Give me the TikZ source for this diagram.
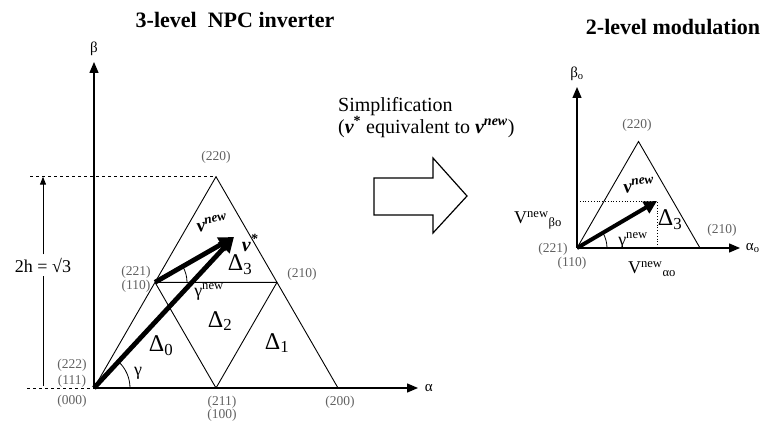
\documentclass[tikz,border=0pt]{standalone}
\usepackage{fontspec}
\setmainfont{Liberation Serif}
\usetikzlibrary{arrows.meta}

\begin{document}
\begin{tikzpicture}[x=1pt, y=1pt,
  state/.style={font=\fontsize{13.5}{14}\selectfont, text=black!62},
  sector/.style={font=\fontsize{24}{24}\selectfont, inner sep=0pt},
  axis/.style={line width=1.3pt, -{Triangle[length=11pt,width=9pt]}},
  vec/.style={line width=4.8pt, -{Triangle[length=15pt,width=15pt]}},
  title/.style={font=\fontsize{22}{22}\selectfont\bfseries}]
  \useasboundingbox (0,0) rectangle (765,426);
  % 3-level hexagon sector
  \coordinate (O) at (94,38);
  \coordinate (a211) at (216,38);
  \coordinate (a200) at (338,38);
  \coordinate (a221) at (155,143.7);
  \coordinate (a210) at (277,143.7);
  \coordinate (a220) at (216,249.3);
  \coordinate (T) at (234,189);
  \coordinate (betaend) at (94,364);
  \coordinate (alphaend) at (418,38);
  \draw[axis] (O) -- (betaend) node[above=2pt, font=\fontsize{15}{15}\selectfont] (beta) {β};
  \draw[axis] (O) -- (alphaend) node[right=3pt, font=\fontsize{15}{15}\selectfont] (alpha) {α};
  \draw[line width=0.9pt] (O) -- (a220) -- (a200);
  \draw[line width=0.9pt] (a221) -- (a210) (a221) -- (a211) -- (a210);
  \draw[line width=1pt, dashed] (27,38) -- (O);
  \draw[line width=1pt, dashed] (30,249.3) -- (a220);
  % height
  \node[font=\fontsize{18}{18}\selectfont] (hgt) at (43,161) {2h = √3};
  \draw[line width=1pt] (43,40) -- (hgt.south);
  \draw[line width=1pt, -{Triangle[length=8pt,width=6pt]}] (hgt.north) -- (43,249.3);
  % vectors
  \draw[vec] (O) -- (T);
  \draw[vec] (a221) -- (T);
  \draw[line width=0.8pt] ([shift={(36,0)}]O) arc[start angle=0, end angle=47.2, radius=36];
  \draw[line width=0.8pt] ([shift={(32,0)}]a221) arc[start angle=0, end angle=29.8, radius=32];
  \node[font=\fontsize{18}{18}\selectfont] (gam) at (138,53) {γ};
  \node[font=\fontsize{18}{18}\selectfont] (gamnew) at (209,134) {γ\textsuperscript{new}};
  \node[font=\fontsize{19}{19}\selectfont\bfseries\itshape, rotate=12, inner sep=1pt] (vnew) at (212,203) {v\textsuperscript{new}};
  \node[font=\fontsize{20}{20}\selectfont\bfseries\itshape, inner sep=1pt] (vstar) at (250,183) {v\textsuperscript{*}};
  % sectors
  \node[sector] (d0) at (161,80) {Δ\textsubscript{0}};
  \node[sector] (d2) at (220,105) {Δ\textsubscript{2}};
  \node[sector] (d1) at (277,83) {Δ\textsubscript{1}};
  \node[sector] (d3) at (240,161) {Δ\textsubscript{3}};
  % switching states
  \node[state] (s220) at (216,269) {(220)};
  \node[state] (s221) at (136,154) {(221)};
  \node[state] (s110) at (136,140) {(110)};
  \node[state] (s210) at (302,152) {(210)};
  \node[state] (s222) at (72,61) {(222)};
  \node[state] (s111) at (72,45) {(111)};
  \node[state] (s000) at (72,25) {(000)};
  \node[state] (s211) at (222,24) {(211)};
  \node[state] (s100) at (222,11) {(100)};
  \node[state] (s200) at (340,24) {(200)};
  \node[title] (t3l) at (235,406) {3-level~~NPC inverter};

  % simplification arrow
  \draw[line width=1.2pt] (374,211) -- (433,211) -- (433,193) -- (467,230)
    -- (433,268) -- (433,248) -- (374,248) -- cycle;
  \node[anchor=west, font=\fontsize{20}{20}\selectfont, inner sep=0pt] (simp) at (338,319) {Simplification};
  \node[anchor=west, font=\fontsize{20}{20}\selectfont, inner sep=0pt] (equiv) at (338,299)
    {({\bfseries\itshape v}\textsuperscript{\bfseries *} equivalent to {\bfseries\itshape v\textsuperscript{new}})};

  % 2-level sector
  \coordinate (O2) at (577,178);
  \coordinate (b210) at (700,178);
  \coordinate (b220) at (638.5,284.5);
  \coordinate (P) at (657,225);
  \coordinate (betaoend) at (577,339);
  \coordinate (alphaoend) at (740,178);
  \draw[axis] (O2) -- (betaoend) node[above=2pt, font=\fontsize{15}{15}\selectfont] (betao) {β\textsubscript{o}};
  \draw[axis] (O2) -- (alphaoend) node[right=2pt, font=\fontsize{15}{15}\selectfont] (alphao) {α\textsubscript{o}};
  \draw[line width=0.9pt] (O2) -- (b220) -- (b210);
  \draw[line width=0.8pt, dotted] (O2 |- P) -- (P) -- (P |- O2);
  \draw[line width=4pt, -{Triangle[length=13pt,width=13pt]}] (O2) -- (P);
  \draw[line width=0.8pt] ([shift={(30,0)}]O2) arc[start angle=0, end angle=30.4, radius=30];
  \node[font=\fontsize{19}{19}\selectfont\bfseries\itshape, rotate=8, inner sep=1pt] (vnewo) at (639,241) {v\textsuperscript{new}};
  \node[font=\fontsize{18}{18}\selectfont, inner sep=1pt] (gamnewo) at (633,185) {γ\textsuperscript{new}};
  \node[sector] (d3o) at (670,206) {Δ\textsubscript{3}};
  \node[font=\fontsize{18}{18}\selectfont] (vbeta) at (538,206) {V\textsuperscript{new}\textsubscript{βo}};
  \node[font=\fontsize{18}{18}\selectfont] (valpha) at (652,157) {V\textsuperscript{new}\textsubscript{αo}};
  \node[state] (r220) at (637,301) {(220)};
  \node[state] (r210) at (722,196) {(210)};
  \node[state] (r221) at (553,177) {(221)};
  \node[state] (r110) at (572,163) {(110)};
  \node[title] (t2l) at (673,399) {2-level modulation};
\end{tikzpicture}
\end{document}
